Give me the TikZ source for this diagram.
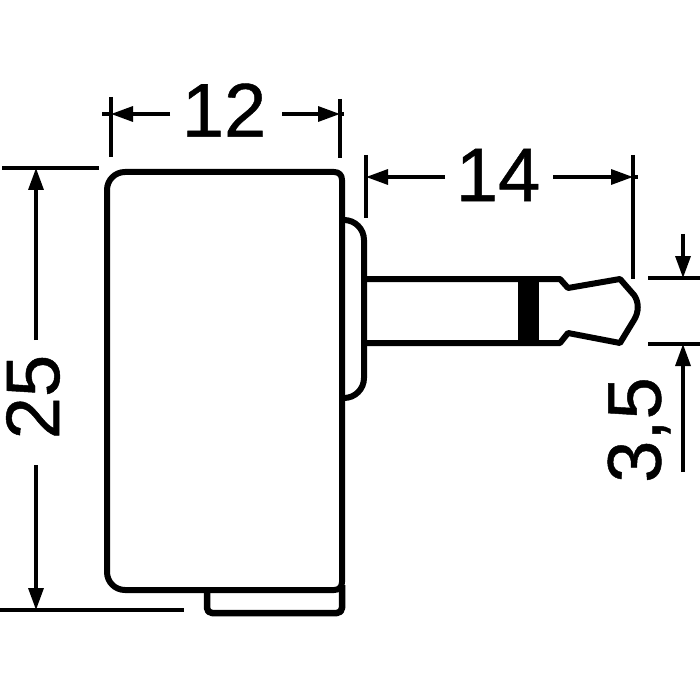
\documentclass[tikz,border=0pt]{standalone}
\usepackage{fontspec}
\newfontfamily\dimfont{Liberation Sans}[FakeBold=0.6]
\usetikzlibrary{arrows.meta}
\tikzset{
  outline/.style={line width=6pt, line join=round},
  dimline/.style={line width=3.3pt, -{Triangle[length=22pt,width=15pt]}},
  extline/.style={line width=3.3pt},
  dimtext/.style={inner sep=0pt, font=\dimfont\fontsize{76}{80}\selectfont}
}
\begin{document}
\begin{tikzpicture}[x=1pt,y=-1pt]
    \useasboundingbox (0,0) rectangle (700,700);

    % housing
    \draw[outline] (125,172) -- (334,172) .. controls (339,172) and (342,175) .. (342,180)
      -- (342,582) .. controls (342,587) and (339,590) .. (334,590) -- (125,590)
      .. controls (115,590) and (107,582) .. (107,572) -- (107,190)
      .. controls (107,180) and (115,172) .. (125,172) -- cycle;
    %% tab
    \draw[line width=6.5pt, line join=round, rounded corners=5pt] (207,590) -- (207,613) -- (342,613) -- (342,585);
    %% collar
    \draw[outline, rounded corners=20pt] (343,220) -- (364,220) -- (364,398) -- (343,398);

    % plug
    \draw[outline] (364,279) -- (560,279) -- (568,288) -- (620,279) -- (634,295)
      .. controls (639,302) and (639,312) .. (634,320)
      -- (620,343) -- (568,333) -- (560,343) -- (364,343);
    \fill (518,279) rectangle (539,343);

    % width
    \draw[extline] (111,97) -- (111,157);
    \draw[extline] (340,99) -- (340,158);
    \node[dimtext] (width) at (224,110) {12};
    \draw[dimline] (170,114) -- (111,114);
    \draw[dimline] (282,114) -- (340,114);
    \draw[extline] (111,114) -- (102,114);
    \draw[extline] (340,114) -- (344,114);

    % length
    \draw[extline] (366,155) -- (366,218);
    \draw[extline] (633,155) -- (633,279);
    \node[dimtext] (length) at (498,175) {14};
    \draw[dimline] (445,177) -- (366,177);
    \draw[dimline] (553,177) -- (633,177);
    \draw[extline] (633,177) -- (638,177);

    % height
    \draw[extline] (2,168) -- (99,168);
    \draw[extline] (0,610) -- (184,610);
    \node[dimtext, rotate=90] (height) at (33,397) {25};
    \draw[dimline] (36,340) -- (36,168);
    \draw[dimline] (36,465) -- (36,610);

    % diameter
    \draw[extline] (648,278) -- (700,278);
    \draw[extline] (648,344) -- (700,344);
    \node[dimtext, rotate=90] (diameter) at (639,430) {3,5};
    \draw[dimline] (683,234) -- (683,278);
    \draw[dimline] (683,472) -- (683,344);
  \end{tikzpicture}
\end{document}
